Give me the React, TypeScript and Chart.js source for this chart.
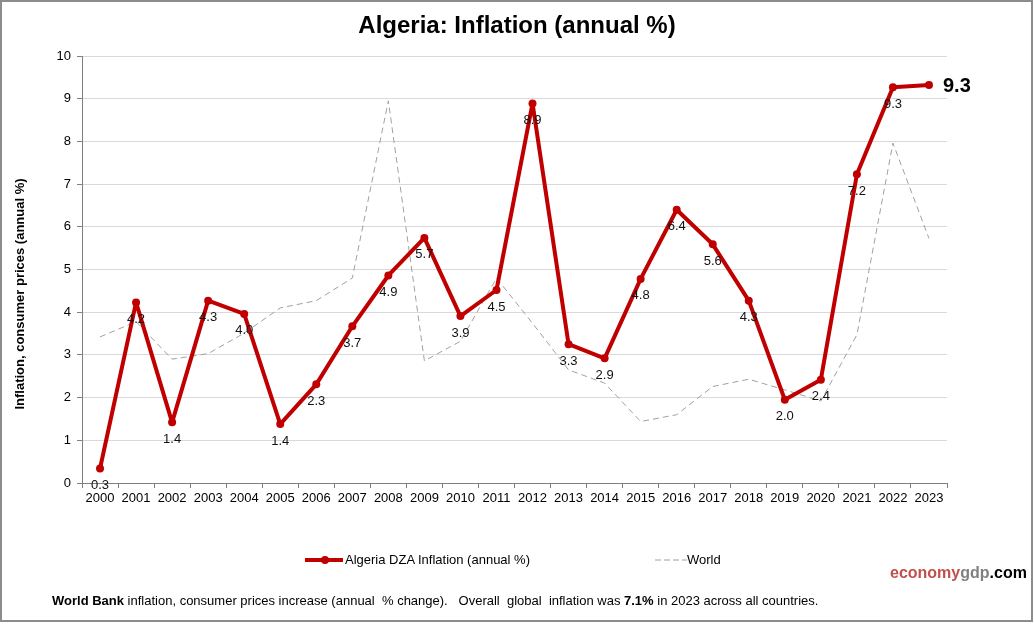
import React, { useEffect, useRef } from "react";
import { Chart, registerables } from "chart.js";

Chart.register(...registerables);

const FONT = '"Liberation Sans", Arial, Helvetica, sans-serif';

const years = [
  "2000", "2001", "2002", "2003", "2004", "2005", "2006", "2007", "2008", "2009", "2010", "2011",
  "2012", "2013", "2014", "2015", "2016", "2017", "2018", "2019", "2020", "2021", "2022", "2023",
];

const algeriaInflation = [
  0.34, 4.23, 1.42, 4.27, 3.96, 1.38, 2.31, 3.67, 4.86, 5.74, 3.91, 4.52,
  8.89, 3.25, 2.92, 4.78, 6.4, 5.59, 4.27, 1.95, 2.42, 7.23, 9.27, 9.32,
];

const worldInflation = [
  3.42, 3.78, 2.9, 3.03, 3.51, 4.1, 4.27, 4.8, 8.95, 2.86, 3.32, 4.8,
  3.74, 2.65, 2.34, 1.44, 1.6, 2.26, 2.43, 2.18, 1.92, 3.47, 7.96, 5.73,
];

const yMin = 0;
const yMax = 10;
const yStep = 1;

const RED = "#c00000";
const GRAY_LINE = "#a0a0a0";
const AXIS = "#808080";

const fmt = (v: number) => (Math.round(v * 10 + 1e-9) / 10).toFixed(1);

const labelPlugin = {
  id: "pointLabels",
  afterDatasetsDraw(chart: any) {
    const meta = chart.getDatasetMeta(0);
    const data = chart.data.datasets[0].data as number[];
    const ctx = chart.ctx;
    ctx.save();
    const last = data.length - 1;
    meta.data.forEach((pt: any, i: number) => {
      const v = data[i];
      if (i === last) {
        ctx.font = `bold 20px ${FONT}`;
        ctx.fillStyle = "#000";
        ctx.textAlign = "left";
        ctx.textBaseline = "middle";
        ctx.fillText(fmt(v), pt.x + 14, pt.y + 1);
      } else {
        ctx.font = `13px ${FONT}`;
        ctx.fillStyle = "#111";
        ctx.textAlign = "center";
        ctx.textBaseline = "middle";
        ctx.fillText(fmt(v), pt.x, pt.y + 17);
      }
    });
    ctx.restore();
  },
};

export default function App() {
  const canvasRef = useRef<HTMLCanvasElement | null>(null);

  useEffect(() => {
    const canvas = canvasRef.current;
    if (!canvas) return;
    const chart = new Chart(canvas, {
      type: "line",
      data: {
        labels: years,
        datasets: [
          {
            label: "Algeria DZA Inflation (annual %)",
            data: algeriaInflation,
            borderColor: RED,
            backgroundColor: RED,
            borderWidth: 4,
            borderJoinStyle: "round",
            borderCapStyle: "round",
            pointRadius: 4,
            pointBackgroundColor: RED,
            pointBorderColor: RED,
            pointBorderWidth: 0,
            tension: 0,
          },
          {
            label: "World",
            data: worldInflation,
            borderColor: GRAY_LINE,
            borderWidth: 1,
            borderDash: [6, 4],
            pointRadius: 0,
            tension: 0,
          },
        ],
      },
      options: {
        responsive: false,
        animation: false,
        devicePixelRatio: 1,
        layout: { padding: { left: 0, top: 56, right: 87, bottom: 101 } },
        plugins: {
          legend: { display: false },
          title: { display: false },
          tooltip: { enabled: false },
        },
        scales: {
          x: {
            type: "category",
            offset: true,
            grid: {
              offset: true,
              drawOnChartArea: false,
              drawTicks: true,
              tickLength: 5,
              tickColor: AXIS,
            },
            border: { color: AXIS, width: 1 },
            ticks: {
              color: "#000",
              font: { size: 13, family: FONT },
              padding: 3,
              maxRotation: 0,
              autoSkip: false,
            },
            afterFit: (s: any) => {
              s.height = 40;
            },
          },
          y: {
            min: yMin,
            max: yMax,
            ticks: {
              stepSize: yStep,
              color: "#000",
              font: { size: 13, family: FONT },
              padding: 6,
            },
            grid: {
              color: (c: any) => (c.tick && c.tick.value === 0 ? AXIS : "#d9d9d9"),
              tickLength: 5,
              tickColor: AXIS,
            },
            border: { color: AXIS, width: 1 },
            afterFit: (s: any) => {
              s.width = 82;
            },
          },
        },
      },
      plugins: [labelPlugin],
    } as any);
    return () => chart.destroy();
  }, []);

  return (
    <div
      style={{
        position: "absolute",
        left: 0,
        top: 0,
        width: 1034,
        height: 624,
        background: "#fff",
        fontFamily: FONT,
        overflow: "hidden",
      }}
    >
      <canvas ref={canvasRef} width={1034} height={624} style={{ position: "absolute", left: 0, top: 0, width: 1034, height: 624 }} />
      <div
        style={{
          position: "absolute",
          left: 0,
          top: 0,
          width: 1033,
          height: 622,
          boxSizing: "border-box",
          border: "2px solid #8c8c8c",
          pointerEvents: "none",
        }}
      />
      <div
        style={{
          position: "absolute",
          left: 0,
          top: 13,
          width: 1034,
          textAlign: "center",
          fontWeight: "bold",
          fontSize: 24,
          lineHeight: "24px",
          color: "#000",
          whiteSpace: "nowrap",
        }}
      >
        Algeria: Inflation (annual %)
      </div>
      <div
        style={{
          position: "absolute",
          left: 20,
          top: 294,
          width: 0,
          height: 0,
        }}
      >
        <div
          style={{
            position: "absolute",
            left: -150,
            top: -8,
            width: 300,
            textAlign: "center",
            fontWeight: "bold",
            fontSize: 13,
            lineHeight: "16px",
            transform: "rotate(-90deg)",
            whiteSpace: "nowrap",
          }}
        >
          Inflation, consumer prices (annual %)
        </div>
      </div>
      <svg style={{ position: "absolute", left: 300, top: 550 }} width={50} height={20}>
        <line x1={5} y1={10} x2={43} y2={10} stroke={RED} strokeWidth={4} />
        <circle cx={25} cy={10} r={4} fill={RED} />
      </svg>
      <div style={{ position: "absolute", left: 345, top: 552, fontSize: 13, lineHeight: "16px", whiteSpace: "nowrap" }}>
        Algeria DZA Inflation (annual %)
      </div>
      <svg style={{ position: "absolute", left: 650, top: 550 }} width={40} height={20}>
        <line x1={5} y1={10} x2={37} y2={10} stroke={GRAY_LINE} strokeWidth={1} strokeDasharray="6,3" />
      </svg>
      <div style={{ position: "absolute", left: 687, top: 552, fontSize: 13, lineHeight: "16px", whiteSpace: "nowrap" }}>
        World
      </div>
      <div
        style={{
          position: "absolute",
          left: 890,
          top: 563,
          fontSize: 16,
          lineHeight: "20px",
          fontWeight: "bold",
          whiteSpace: "nowrap",
        }}
      >
        <span style={{ color: "#c0504d" }}>economy</span>
        <span style={{ color: "#808080" }}>gdp</span>
        <span style={{ color: "#000" }}>.com</span>
      </div>
      <div
        style={{
          position: "absolute",
          left: 52,
          top: 593,
          fontSize: 13,
          lineHeight: "16px",
          whiteSpace: "pre",
          color: "#000",
        }}
      >
        <b>World Bank</b> inflation, consumer prices increase (annual  % change).   Overall  global  inflation was <b>7.1%</b> in 2023 across all countries.
      </div>
    </div>
  );
}
